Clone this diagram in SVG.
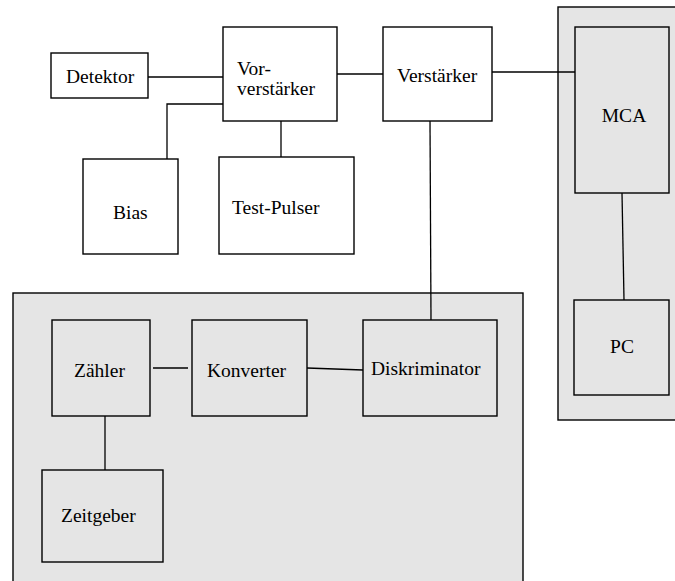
<svg xmlns="http://www.w3.org/2000/svg" width="675" height="581" viewBox="0 0 675 581">
<style>
.box{fill:#ffffff;stroke:#000;stroke-width:1.4}
.gbox{fill:#e5e5e5;stroke:#000;stroke-width:1.4}
.panel{fill:#e5e5e5;stroke:#000;stroke-width:1.4}
.c{fill:none;stroke:#000;stroke-width:1.3}
</style>
<rect width="675" height="581" fill="#fff"/>
<g id="panel-right"><rect class="panel" x="558" y="7" width="120" height="413"/></g>
<g id="panel-bottom"><rect class="panel" x="13" y="293" width="510" height="300"/></g>
<g id="connectors">
<line class="c" x1="148" y1="77" x2="223" y2="77"/>
<polyline class="c" points="223,104 167,104 167,159"/>
<line class="c" x1="281" y1="121" x2="281" y2="157"/>
<line class="c" x1="337" y1="74" x2="383" y2="74"/>
<line class="c" x1="492" y1="72" x2="575" y2="72"/>
<line class="c" x1="430" y1="121" x2="431" y2="320"/>
<line class="c" x1="622" y1="193" x2="624" y2="300"/>
<line class="c" x1="153" y1="368" x2="188" y2="368"/>
<line class="c" x1="307" y1="368" x2="363" y2="370"/>
<line class="c" x1="105" y1="416" x2="105" y2="470"/>
</g>
<g font-family="'Liberation Serif', 'Times New Roman', 'DejaVu Serif', serif" font-size="19.5" fill="#000">
<g id="detektor"><rect class="box" x="51" y="53" width="97" height="45"/><text x="66" y="83">Detektor</text></g>
<g id="vorverstaerker"><rect class="box" x="223" y="27" width="114" height="94"/><text x="237" y="75">Vor-</text><text x="237" y="95">verstärker</text></g>
<g id="verstaerker"><rect class="box" x="383" y="27" width="109" height="94"/><text x="397" y="82">Verstärker</text></g>
<g id="bias"><rect class="box" x="83" y="159" width="95" height="95"/><text x="113" y="219">Bias</text></g>
<g id="testpulser"><rect class="box" x="219" y="157" width="135" height="97"/><text x="232" y="214">Test-Pulser</text></g>
<g id="mca"><rect class="gbox" x="575" y="27" width="94" height="166"/><text x="624" y="122" text-anchor="middle">MCA</text></g>
<g id="pc"><rect class="gbox" x="574" y="300" width="95" height="95"/><text x="622" y="353" text-anchor="middle">PC</text></g>
<g id="zaehler"><rect class="gbox" x="52" y="320" width="98" height="96"/><text x="74" y="377">Zähler</text></g>
<g id="konverter"><rect class="gbox" x="192" y="320" width="115" height="96"/><text x="207" y="377">Konverter</text></g>
<g id="diskriminator"><rect class="gbox" x="363" y="320" width="134" height="96"/><text x="371" y="375">Diskriminator</text></g>
<g id="zeitgeber"><rect class="gbox" x="42" y="470" width="121" height="92"/><text x="61" y="522">Zeitgeber</text></g>
</g>
</svg>
